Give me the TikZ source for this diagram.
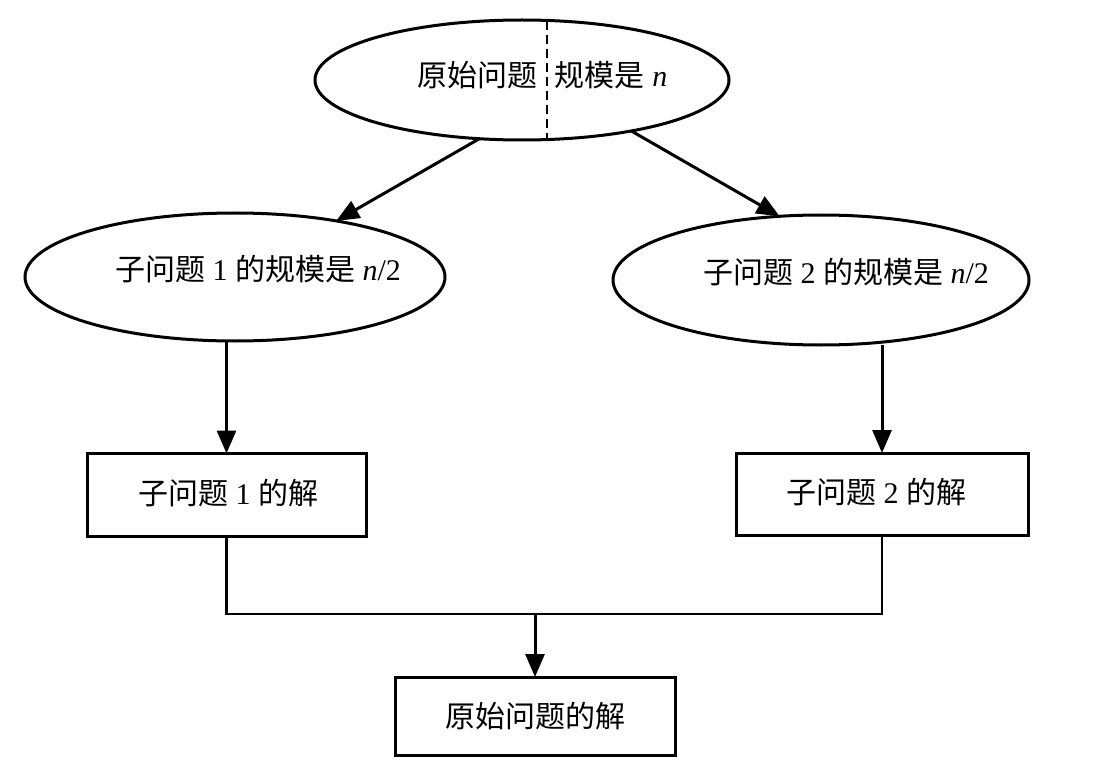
\documentclass[tikz,border=0pt]{standalone}
\usepackage{fontspec}
\setmainfont{Liberation Serif}
\newfontfamily\cjk{Noto Sans CJK SC}
\usetikzlibrary{arrows.meta,shapes.geometric}
\tikzset{
  lw/.style={line width=3pt},
  ell/.style={ellipse,draw,lw,inner sep=0pt,outer sep=0pt},
  boxnode/.style={rectangle,draw,lw,inner sep=0pt,outer sep=0pt},
  txt/.style={inner sep=0pt,font=\fontsize{30}{36}\selectfont},
  arr/.style={lw,-{Triangle[length=23pt,width=19pt]}},
  conn/.style={line width=2.2pt},
}
\begin{document}
\begin{tikzpicture}[x=1pt,y=-1pt]
\useasboundingbox (0,0) rectangle (1100,778);
% top ellipse
\node[ell,minimum width=414pt,minimum height=120pt] (top) at (522,80) {};
\coordinate (dtop) at (547,21);
\coordinate (dbot) at (547,139);
\draw[line width=2.6pt,dash pattern=on 9pt off 5pt] (dtop) -- (dbot);
\node[txt] (t1) at (477,75) {\cjk 原始问题};
\node[txt] (t2) at (611,75) {{\cjk 规模是} \textit{n}};
% sub ellipses
\node[ell,minimum width=420pt,minimum height=128pt] (left) at (235,277) {};
\node[txt] (tl) at (258,269) {{\cjk 子问题} 1 {\cjk 的规模是} \textit{n}/2};
\node[ell,minimum width=416pt,minimum height=130pt] (right) at (821,280) {};
\node[txt] (tr) at (846,272) {{\cjk 子问题} 2 {\cjk 的规模是} \textit{n}/2};
% boxes
\node[boxnode,minimum width=279pt,minimum height=83pt] (box1) at (226.5,495) {};
\node[txt] (tb1) at (228,493) {{\cjk 子问题} 1 {\cjk 的解}};
\node[boxnode,minimum width=292pt,minimum height=82pt] (box2) at (882,494) {};
\node[txt] (tb2) at (876,492) {{\cjk 子问题} 2 {\cjk 的解}};
\node[boxnode,minimum width=280pt,minimum height=78pt] (box3) at (535,716) {};
\node[txt] (tb3) at (535,716) {\cjk 原始问题的解};
% arrows
\draw[arr] (top.234) -- (left.29);
\draw[arr] (top.-25) -- (right.123);
\draw[arr] (left.south -| box1.north) -- (box1.north);
\draw[arr] (right.south -| box2.north) -- (box2.north);
% join
\coordinate (j) at (538,614);
\draw[conn] (box1.south) -- (box1.south |- j) -- (box2.south |- j) -- (box2.south);
\draw[arr] (j -| box3.north) -- (box3.north);
\end{tikzpicture}
\end{document}
